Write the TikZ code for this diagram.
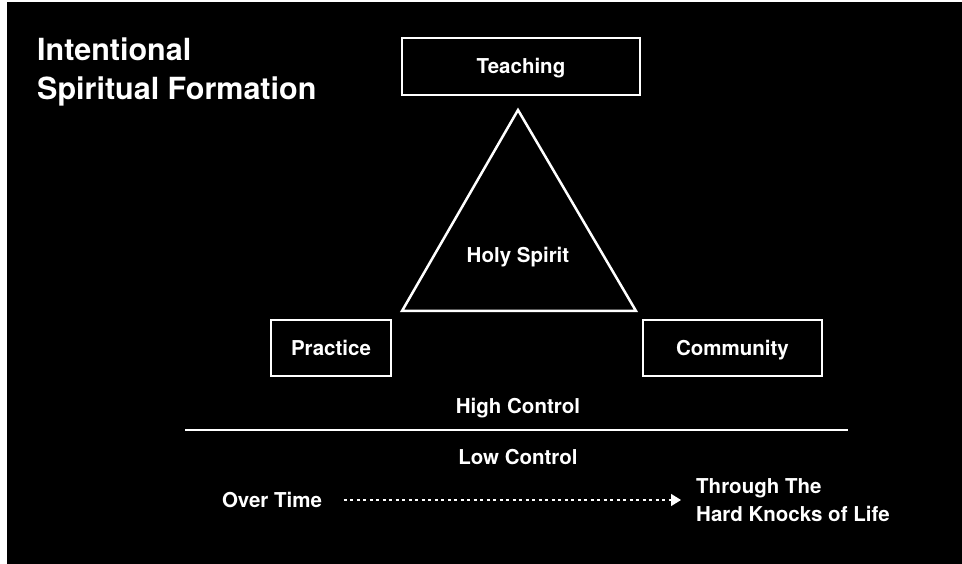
\documentclass[tikz,border=0pt]{standalone}
\usepackage{fontspec}
\setmainfont{TeX Gyre Heros}
\usetikzlibrary{arrows.meta}
\begin{document}
\begin{tikzpicture}[x=1pt, y=-1pt,
  txt/.style={text=white, font=\bfseries\fontsize{20.5}{28}\selectfont, text height=14.5pt, text depth=0pt},
  box/.style={txt, draw=white, line width=2pt},
  whiteline/.style={draw=white, line width=2pt},
  dotline/.style={draw=white, line width=1.5pt, dash pattern=on 3pt off 3.5pt}]
  % canvas
  \fill[white] (0,0) rectangle (962,564);
  \fill[black] (7,2) rectangle (962,564);
  \useasboundingbox (0,0) rectangle (962,564);

  \node[anchor=north west, inner sep=0pt, align=left, text=white,
        font=\bfseries\fontsize{30.5}{39}\selectfont] (title) at (37,38) {Intentional\\Spiritual Formation};

  % the three corners
  \node[box, minimum width=238pt, minimum height=57pt] (teaching) at (521,66.5) {Teaching};
  \node[box, minimum width=120pt, minimum height=56pt] (practice) at (331,348) {Practice};
  \node[box, minimum width=179pt, minimum height=56pt] (community) at (732.5,348) {Community};

  \draw[whiteline, line width=2.5pt, line join=miter] (518,110) -- (402,311) -- (636,311) -- cycle;
  \node[txt] (spirit) at (518,255) {Holy Spirit};

  % control divide
  \node[txt] (high) at (518,406) {High Control};
  \draw[whiteline] (185,430) -- (848,430);
  \node[txt] (low) at (518,457) {Low Control};

  \node[txt] (overtime) at (272,500) {Over Time};
  \node[anchor=west, inner sep=0pt, align=left, text=white,
        font=\bfseries\fontsize{20.5}{28}\selectfont] (knocks) at (696,500) {Through The\\Hard Knocks of Life};
  \draw[dotline, -{Triangle[length=10pt,width=12pt]}, shorten <=18pt, shorten >=15pt] (overtime.east) -- (knocks.west);
\end{tikzpicture}
\end{document}
